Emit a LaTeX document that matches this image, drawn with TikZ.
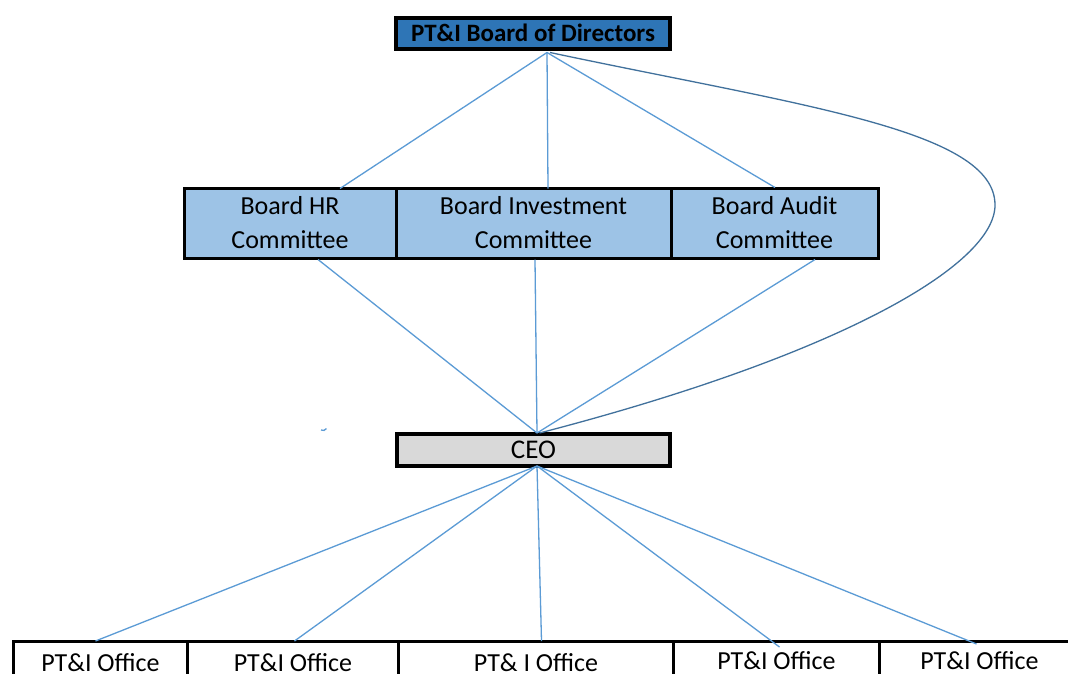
\documentclass[tikz,border=0pt]{standalone}
\usepackage{fontspec}
\setmainfont{Carlito}
\begin{document}
\begin{tikzpicture}[x=1pt,y=-1pt,
  conn/.style={draw=lineblue,line width=1.3pt},
  curv/.style={draw=curveblue,line width=1.3pt},
  boardbox/.style={draw=black,line width=4pt,fill=boardblue,minimum width=274pt,minimum height=31pt,inner sep=0pt,font=\fontsize{25}{30}\selectfont\bfseries},
  combox/.style={draw=black,line width=3pt,fill=comblue,minimum height=70pt,inner sep=0pt,align=center,font=\fontsize{26}{34}\selectfont},
  ceobox/.style={draw=black,line width=4pt,fill=ceogray,minimum width=273pt,minimum height=32pt,inner sep=0pt,font=\fontsize{27}{30}\selectfont},
  offbox/.style={draw=black,line width=3pt,minimum height=50pt,inner xsep=0pt,inner ysep=0pt,anchor=north west,text height=30pt,text depth=24pt,font=\fontsize{26}{30}\selectfont}
]
\definecolor{lineblue}{HTML}{5B9BD5}
\definecolor{curveblue}{HTML}{41719C}
\definecolor{boardblue}{HTML}{2E75B6}
\definecolor{comblue}{HTML}{9DC3E6}
\definecolor{ceogray}{HTML}{D9D9D9}
\useasboundingbox (0,0) rectangle (1068,673);
\clip (0,0) rectangle (1068,673);
\fill[white] (0,0) rectangle (1068,673);

\node[boardbox] (board) at (533,33) {PT\&I Board of Directors};

\node[combox,minimum width=212pt] (hr) at (290,223) {Board HR\\Committee};
\node[combox,minimum width=275pt] (inv) at (533.5,223) {Board Investment\\Committee};
\node[combox,minimum width=207pt] (aud) at (774.5,223) {Board Audit\\Committee};

\node[ceobox] (ceo) at (533.5,450) {CEO};

\node[offbox,minimum width=174pt] (o1) at (12,640) {PT\&I Office};
\node[offbox,minimum width=211pt] (o2) at (186,640) {PT\&I Office};
\node[offbox,minimum width=275pt] (o3) at (397,640) {PT\& I Office};
\node[offbox,minimum width=206pt,text height=28pt] (o4) at (672,640) {PT\&I Office};
\node[offbox,minimum width=200pt,text height=28pt] (o5) at (878,640) {PT\&I Office};

% board to committees
\draw[conn] ([xshift=14pt,yshift=-2pt]board.south) -- ([xshift=50pt,yshift=-2pt]hr.north);
\draw[conn] ([xshift=14pt,yshift=-2pt]board.south) -- ([xshift=14.5pt,yshift=-2pt]inv.north);
\draw[conn] ([xshift=14pt,yshift=-2pt]board.south) -- ([xshift=0.5pt,yshift=-1pt]aud.north);
% board to CEO curve
\draw[curv] ([xshift=17pt,yshift=-2pt]board.south) .. controls (800,105.5) and (995,130) .. (995,205)
  .. controls (995,265) and (840,355) .. ([xshift=6pt,yshift=-1pt]ceo.north);

% committees to CEO
\draw[conn] ([xshift=28pt]hr.south) -- ([xshift=3.5pt,yshift=-1pt]ceo.north);
\draw[conn] ([xshift=1.5pt]inv.south) -- ([xshift=3.5pt,yshift=-1pt]ceo.north);
\draw[conn] ([xshift=40.5pt]aud.south) -- ([xshift=3.5pt,yshift=-1pt]ceo.north);

% CEO to offices
\draw[conn] ([xshift=3.5pt,yshift=2pt]ceo.south) -- ([xshift=-5pt,yshift=-1pt]o1.north);
\draw[conn] ([xshift=3.5pt,yshift=2pt]ceo.south) -- ([xshift=1.5pt,yshift=-1pt]o2.north);
\draw[conn] ([xshift=3.5pt,yshift=2pt]ceo.south) -- ([xshift=5.5pt,yshift=-1pt]o3.north);
\draw[conn] ([xshift=3.5pt,yshift=2pt]ceo.south) -- ([xshift=3pt,yshift=-7pt]o4.north);
\draw[conn] ([xshift=3.5pt,yshift=2pt]ceo.south) -- ([xshift=-3pt,yshift=-4pt]o5.north);

% small stray mark
\draw[conn] (321,430) arc[start angle=120,end angle=30,radius=4];
\end{tikzpicture}
\end{document}
